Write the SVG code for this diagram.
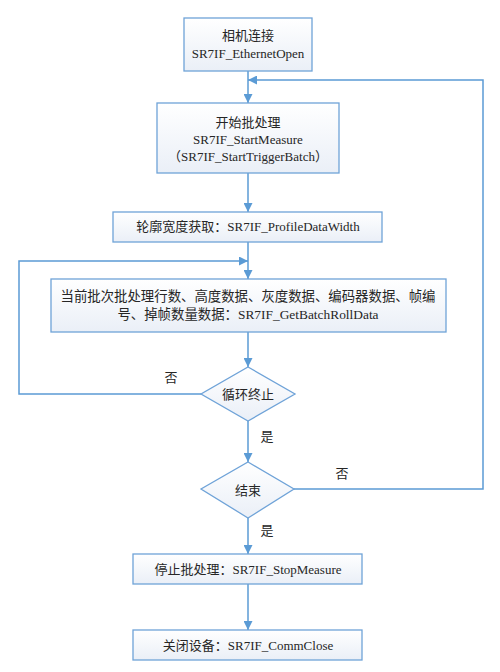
<svg xmlns="http://www.w3.org/2000/svg" width="500" height="672" viewBox="0 0 500 672">
<defs>
<linearGradient id="g" x1="0" y1="0" x2="0" y2="1">
<stop offset="0" stop-color="#ffffff"/>
<stop offset="1" stop-color="#eaeff7"/>
</linearGradient>
<marker id="ah" viewBox="0 0 10 10" refX="10" refY="5" markerWidth="9" markerHeight="9" markerUnits="userSpaceOnUse" orient="auto">
<path d="M0,0 L10,5 L0,10 z" fill="#5b9bd5"/>
</marker>
<style>
.n{fill:url(#g);stroke:#6fa3d8;stroke-width:1.3}
.c{fill:none;stroke:#5b9bd5;stroke-width:1.5;marker-end:url(#ah)}
text{font-family:"Liberation Serif","Noto Sans CJK SC",serif;font-size:13px;fill:#262626;text-anchor:middle;dominant-baseline:central}
.w{font-size:13.4px}
</style>
</defs>
<g id="connectors">
<path class="c" d="M248,71 V103"/>
<path class="c" d="M248,173 V212"/>
<path class="c" d="M248,242 V279"/>
<path class="c" d="M248,332 V367"/>
<path class="c" d="M201,394 H19 V261 H248"/>
<path class="c" d="M248,421 V462"/>
<path class="c" d="M294,489 H483 V80 H248"/>
<path class="c" d="M248,518 V554"/>
<path class="c" d="M248,584 V630"/>
<text x="171" y="377">否</text>
<text x="267" y="436">是</text>
<text x="342" y="473">否</text>
<text x="267" y="530">是</text>
</g>
<g id="n1">
<rect class="n" x="184" y="18" width="128" height="53"/>
<text x="248" y="35">相机连接</text>
<text x="248" y="53">SR7IF_EthernetOpen</text>
</g>
<g id="n2">
<rect class="n" x="157" y="103" width="182" height="70"/>
<text x="248" y="122">开始批处理</text>
<text x="248" y="139">SR7IF_StartMeasure</text>
<text x="248" y="156">（SR7IF_StartTriggerBatch）</text>
</g>
<g id="n3">
<rect class="n" x="113" y="212" width="269" height="30"/>
<text x="248" y="226">轮廓宽度获取：SR7IF_ProfileDataWidth</text>
</g>
<g id="n4">
<rect class="n" x="51" y="279" width="395" height="53"/>
<text class="w" x="248" y="296">当前批次批处理行数、高度数据、灰度数据、编码器数据、帧编</text>
<text class="w" x="248" y="314">号、掉帧数量数据：SR7IF_GetBatchRollData</text>
</g>
<g id="d1">
<path class="n" d="M248,367 L295,394 L248,421 L201,394 Z"/>
<text x="248" y="394">循环终止</text>
</g>
<g id="d2">
<path class="n" d="M248,462 L294,489 L248,518 L201,489 Z"/>
<text x="248" y="490">结束</text>
</g>
<g id="n5">
<rect class="n" x="133" y="554" width="229" height="30"/>
<text x="248" y="569">停止批处理：SR7IF_StopMeasure</text>
</g>
<g id="n6">
<rect class="n" x="133" y="630" width="229" height="30"/>
<text x="248" y="645">关闭设备：SR7IF_CommClose</text>
</g>
</svg>
